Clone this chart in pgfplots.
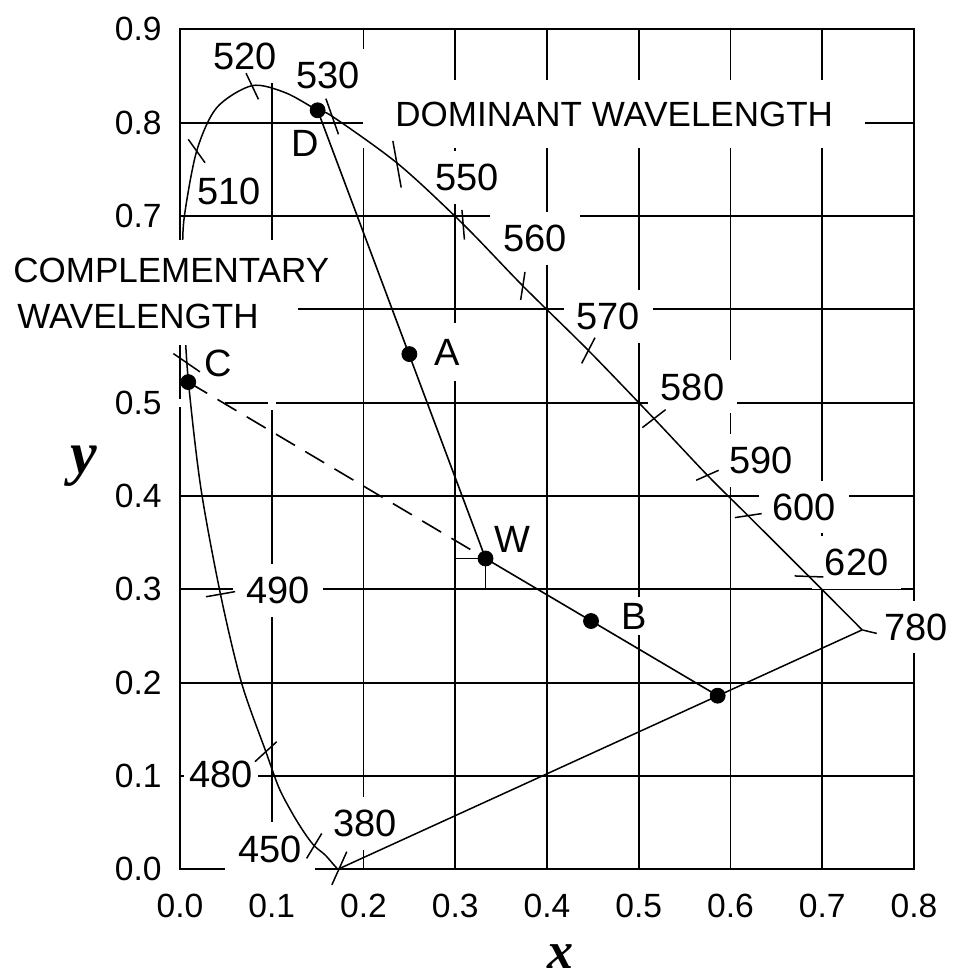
\documentclass[border=0pt]{standalone}
\usepackage{pgfplots}
\pgfplotsset{compat=1.18}
\usepackage{fontspec}
\setmainfont{Liberation Sans}
\newfontfamily\seriffont{Liberation Serif}
\tikzset{
  wl/.style={fill=white, inner sep=6.5pt, font=\fontsize{19}{22}\selectfont},
  lt/.style={fill=white, inner sep=3pt, font=\fontsize{19}{22}\selectfont},
  tx/.style={fill=white, font=\fontsize{17.5}{20}\selectfont},
}
\begin{document}
\begin{tikzpicture}
\begin{axis}[name=ax,
  width=367pt, height=420pt, scale only axis,
  xmin=0, xmax=0.8, ymin=0, ymax=0.9,
  xtick={0,0.1,0.2,0.3,0.4,0.5,0.6,0.7,0.8},
  ytick={0,0.1,0.2,0.3,0.4,0.5,0.6,0.7,0.8,0.9},
  xticklabels={0.0,0.1,0.2,0.3,0.4,0.5,0.6,0.7,0.8},
  yticklabels={0.0,0.1,0.2,0.3,0.4,0.5,{},0.7,0.8,0.9},
  major tick length=0pt,
  grid=major,
  major grid style={black, line width=0.9pt},
  axis line style={black, line width=1pt},
  tick label style={font=\fontsize{16.8}{20}\selectfont},
  xticklabel style={inner sep=0pt, anchor=north, yshift=-12pt},
  yticklabel style={inner sep=0pt, anchor=east, xshift=-9pt},
  clip=false,
]
% gaps in grid lines
\node[fill=white, inner sep=0pt, minimum width=23.5pt, minimum height=4pt] at (axis cs:0.0235,0.5) {};
\node[fill=white, inner sep=0pt, minimum width=4pt, minimum height=33pt] at (axis cs:0.1,0.527) {};
% label boxes (white) with text
\node[wl] at (axis cs:0.2018,0.049) {380};
\node[wl] at (axis cs:0.098,0.0218) {450};
\node[wl, inner xsep=2.5pt] at (axis cs:0.0445,0.102) {480};
\node[wl] at (axis cs:0.107,0.299) {490};
\node[wl, inner sep=4pt] at (axis cs:0.0532,0.7268) {510};
\node[wl] at (axis cs:0.0708,0.8707) {520};
\node[wl] at (axis cs:0.1617,0.851) {530};
\node[wl] at (axis cs:0.313,0.7412) {550};
\node[wl] at (axis cs:0.387,0.676) {560};
\node[wl] at (axis cs:0.4668,0.592) {570};
\node[wl] at (axis cs:0.5586,0.5168) {580};
\node[wl] at (axis cs:0.6332,0.4382) {590};
\node[wl] at (axis cs:0.6801,0.3882) {600};
\node[wl] at (axis cs:0.7375,0.3286) {620};
\node[wl] at (axis cs:0.8023,0.2596) {780};
\node[lt] at (axis cs:0.0415,0.5425) {C};
\node[lt] at (axis cs:0.1364,0.7779) {D};
\node[lt, inner sep=8pt] at (axis cs:0.291,0.554) {A};
\node[lt] at (axis cs:0.3625,0.3536) {W};
\node[lt] at (axis cs:0.4945,0.2714) {B};
\node[tx, anchor=west, inner xsep=16pt, inner ysep=10.75pt] at (axis cs:0.1995,0.809) {DOMINANT WAVELENGTH\hspace{8pt}};
% spectral locus
\addplot[black, line width=0.75pt, smooth] coordinates {
 (0.172,0.000) (0.167,0.0055) (0.158,0.0155) (0.146,0.0255) (0.135,0.040)
 (0.123,0.059) (0.108,0.087) (0.0936,0.1260) (0.067,0.200) (0.0441,0.2948)
 (0.0225,0.410) (0.0085,0.530) (0.0035,0.620) (0.0028,0.660) (0.0048,0.700)
 (0.0182,0.7696) (0.040,0.8160) (0.0785,0.8396) (0.115,0.8320) (0.150,0.8132)
 (0.1658,0.8068) (0.2382,0.7554) (0.3087,0.6911) (0.3737,0.6250) (0.445,0.556)
 (0.5166,0.4829) (0.5748,0.4222) (0.619,0.379) (0.6855,0.3138) (0.7435,0.2565)
};
% purple line
\addplot[black, line width=0.75pt] coordinates {(0.172,0) (0.7435,0.2565)};
% wavelength ticks
\addplot[black, line width=0.75pt] coordinates {(0.1655,-0.0167) (0.1818,0.0189)};
\addplot[black, line width=0.75pt] coordinates {(0.138,0.0117) (0.1545,0.0384)};
\addplot[black, line width=0.75pt] coordinates {(0.0817,0.1153) (0.1054,0.1367)};
\addplot[black, line width=0.75pt] coordinates {(0.0283,0.292) (0.060,0.2975)};
\addplot[black, line width=0.75pt] coordinates {(-0.0072,0.5525) (0.0217,0.533)};
\addplot[black, line width=0.75pt] coordinates {(0.009,0.7821) (0.0273,0.757)};
\addplot[black, line width=0.75pt] coordinates {(0.072,0.8529) (0.0855,0.825)};
\addplot[black, line width=0.75pt] coordinates {(0.159,0.8257) (0.1727,0.7875)};
\addplot[black, line width=0.75pt] coordinates {(0.232,0.7804) (0.2411,0.7304)};
\addplot[black, line width=0.75pt] coordinates {(0.3073,0.7064) (0.310,0.6746)};
\addplot[black, line width=0.75pt] coordinates {(0.3713,0.610) (0.376,0.640)};
\addplot[black, line width=0.75pt] coordinates {(0.4378,0.542) (0.4523,0.5696)};
\addplot[black, line width=0.75pt] coordinates {(0.5039,0.4732) (0.5293,0.4925)};
\addplot[black, line width=0.75pt] coordinates {(0.5625,0.4168) (0.5871,0.4275)};
\addplot[black, line width=0.75pt] coordinates {(0.6047,0.3768) (0.6340,0.3811)};
\addplot[black, line width=0.75pt] coordinates {(0.6699,0.3143) (0.7012,0.3132)};
\addplot[black, line width=0.75pt] coordinates {(0.7435,0.2565) (0.7594,0.2527)};
% construction lines
\addplot[black, line width=0.8pt] coordinates {(0.150,0.8132) (0.333,0.333)};
\addplot[black, line width=0.8pt, dash pattern=on 11pt off 6pt] coordinates {(0.009,0.522) (0.333,0.333)};
\addplot[black, line width=0.8pt] coordinates {(0.333,0.333) (0.586,0.186)};
\addplot[black, line width=0.8pt] coordinates {(0.300,0.333) (0.333,0.333) (0.333,0.300)};
% points
\addplot[black, only marks, mark=*, mark size=3.75pt] coordinates {
 (0.150,0.8132) (0.250,0.552) (0.333,0.333) (0.448,0.266) (0.586,0.186) (0.009,0.522)};
% complementary label on top (white backing, then one two-line text)
\node[fill=white, inner sep=0pt, minimum width=173pt, minimum height=30pt] at (axis cs:-0.009,0.6422) {};
\node[fill=white, inner sep=0pt, minimum width=149.5pt, minimum height=26pt] at (axis cs:-0.0343,0.5896) {};
\node[anchor=west, inner sep=0pt, align=left, font=\fontsize{17.5}{23}\selectfont] at (axis cs:-0.182,0.617) {COMPLEMENTARY\\\hspace*{2pt}WAVELENGTH};
% axis labels
\node[font=\fontsize{30}{30}\selectfont\seriffont\bfseries\itshape] at (axis cs:-0.105,0.432) {y};
\node[font=\fontsize{26}{26}\selectfont\seriffont\bfseries\itshape] at (axis cs:0.4142,-0.094) {x};
\end{axis}
\pgfresetboundingbox
\path (ax.south west) ++(-90pt,-54.85pt) coordinate (bl);
\path (ax.north east) ++(24pt,14.65pt) coordinate (tr);
\path (bl) rectangle (tr);
\end{tikzpicture}
\end{document}
